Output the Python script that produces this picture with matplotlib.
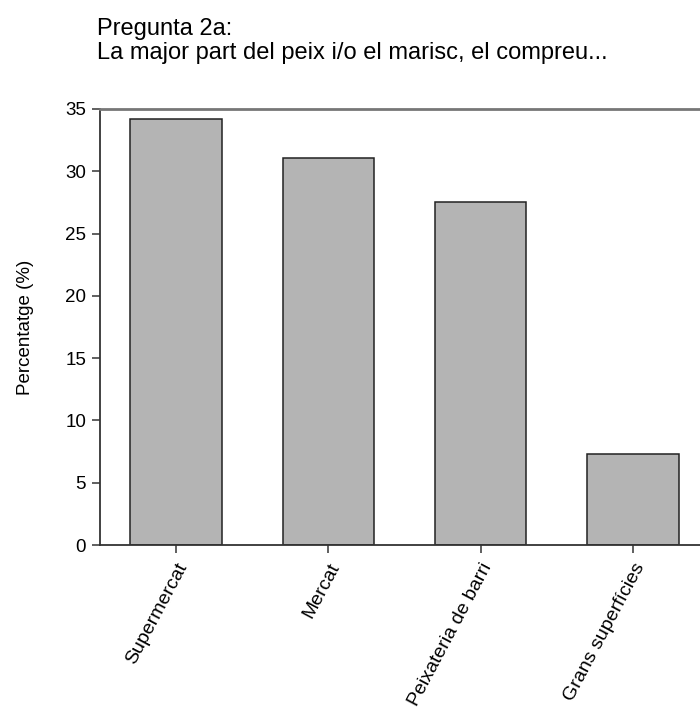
import matplotlib
matplotlib.use('Agg')
from matplotlib import pyplot as plt

categories = ['Supermercat', 'Mercat', 'Peixateria de barri', 'Grans superfícies']
values = [34.2, 31.1, 27.5, 7.3]
yticks = [0, 5, 10, 15, 20, 25, 30, 35]
title_lines = ['Pregunta 2a:', 'La major part del peix i/o el marisc, el compreu...']

plt.rcParams['font.family'] = ['Liberation Sans', 'DejaVu Sans']
plt.rcParams['font.size'] = 13.5

fig = plt.figure(figsize=(7, 7.14), dpi=100)
W, H = 700, 714
# axes runs slightly past the right edge, as in the reference (cropped)
ax = fig.add_axes([100 / W, 1 - 545 / H, 609 / W, 436 / H])

x = list(range(len(categories)))
ax.bar(x, values, width=0.6, color='#b4b4b4', edgecolor='#222222', linewidth=1.1)

ax.set_xlim(-0.5, len(categories) - 0.5)
ax.set_ylim(0, 35)
ax.set_yticks(yticks)
ax.set_xticks(x)
ax.set_xticklabels(categories, rotation=62, ha='right', rotation_mode='anchor', fontsize=14)

ax.tick_params(axis='both', direction='out', length=6, width=1.2, color='#444444')
ax.tick_params(axis='y', pad=4)
ax.tick_params(axis='x', pad=5)

for side in ['left', 'bottom']:
    ax.spines[side].set_color('#333333')
    ax.spines[side].set_linewidth(1.3)
ax.spines['top'].set_color('#777777')
ax.spines['top'].set_linewidth(2)
ax.spines['right'].set_visible(False)

ax.set_ylabel('Percentatge (%)', fontsize=13.5)
ax.yaxis.set_label_coords(-66 / 609, 0.5)

# two-line heading, baselines at ~35px and ~59px from the top
fig.text(97 / W, 1 - 35 / H, title_lines[0], ha='left', va='baseline', fontsize=17)
fig.text(97 / W, 1 - 59 / H, title_lines[1], ha='left', va='baseline', fontsize=17)

fig.savefig('out.png', dpi=100)
